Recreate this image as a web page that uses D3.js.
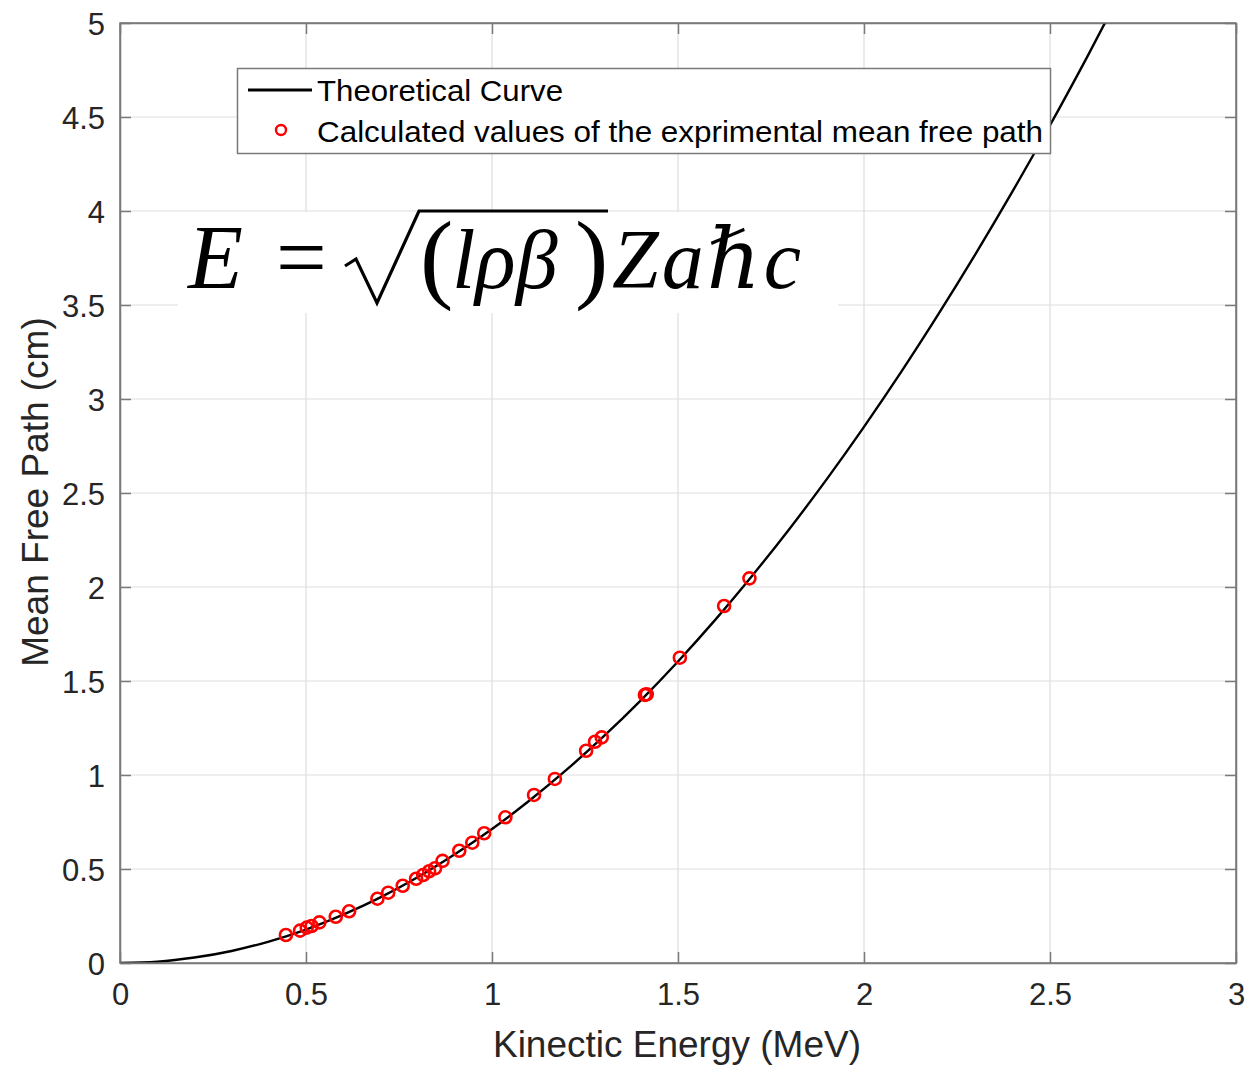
<!DOCTYPE html>
<html><head><meta charset="utf-8">
<script src="https://cdn.jsdelivr.net/npm/d3@7"></script>
<style>body{margin:0;background:#fff}svg{display:block}</style>
</head><body>
<svg id="c" width="1248" height="1065"></svg>
<script>
// Theoretical curve samples
const curveE = [0,0.1,0.2,0.3,0.4,0.5,0.6,0.7,0.8,0.9,1.0,1.1,1.2,1.3,1.4,1.5,1.6,1.7,1.8,1.9,2.0,2.1,2.2,2.3,2.4,2.5,2.6,2.7];
const curveL = [0,0.007,0.029,0.064,0.114,0.178,0.257,0.349,0.456,0.578,0.713,0.863,1.027,1.205,1.397,1.604,1.825,2.061,2.310,2.574,2.852,3.144,3.451,3.772,4.107,4.456,4.820,5.198];
// Experimental points
const expE = [0.446,0.484,0.502,0.515,0.536,0.580,0.616,0.692,0.721,0.760,0.796,0.815,0.831,0.847,0.867,0.912,0.947,0.979,1.036,1.113,1.169,1.253,1.277,1.295,1.411,1.416,1.505,1.624,1.692];
const expL = [0.149,0.172,0.188,0.197,0.216,0.246,0.275,0.342,0.374,0.411,0.448,0.468,0.488,0.504,0.543,0.597,0.640,0.690,0.775,0.894,0.979,1.129,1.177,1.200,1.426,1.429,1.624,1.899,2.046];
const xTicks = [0,0.5,1,1.5,2,2.5,3];
const yTicks = [0,0.5,1,1.5,2,2.5,3,3.5,4,4.5,5];
const xTickLabels = ["0","0.5","1","1.5","2","2.5","3"];
const yTickLabels = ["0","0.5","1","1.5","2","2.5","3","3.5","4","4.5","5"];

const L=120,R=1236,T=23,B=963;
const svg = d3.select("#c");
const x = d3.scaleLinear().domain([0,3]).range([L,R]);
const y = d3.scaleLinear().domain([0,5]).range([B,T]);
const font = "Arial, 'Liberation Sans', sans-serif";
const axCol = "#262626";

// grid
svg.append("g").selectAll("line").data(xTicks).join("line")
  .attr("x1",d=>x(d)).attr("x2",d=>x(d)).attr("y1",T).attr("y2",B)
  .attr("stroke","#dedede").attr("stroke-width",1.2);
svg.append("g").selectAll("line").data(yTicks).join("line")
  .attr("y1",d=>y(d)).attr("y2",d=>y(d)).attr("x1",L).attr("x2",R)
  .attr("stroke","#dedede").attr("stroke-width",1.2);

// axes with inward ticks
const tl = 11;
const gx = svg.append("g").attr("transform",`translate(0,${B})`)
  .call(d3.axisBottom(x).tickValues(xTicks).tickFormat((d,i)=>xTickLabels[i]).tickSizeInner(-tl).tickSizeOuter(0).tickPadding(tl+9));
const gxt = svg.append("g").attr("transform",`translate(0,${T})`)
  .call(d3.axisTop(x).tickValues(xTicks).tickFormat("").tickSizeInner(-tl).tickSizeOuter(0));
const gy = svg.append("g").attr("transform",`translate(${L},0)`)
  .call(d3.axisLeft(y).tickValues(yTicks).tickFormat((d,i)=>yTickLabels[i]).tickSizeInner(-tl).tickSizeOuter(0).tickPadding(tl+4));
const gyr = svg.append("g").attr("transform",`translate(${R},0)`)
  .call(d3.axisRight(y).tickValues(yTicks).tickFormat("").tickSizeInner(-tl).tickSizeOuter(0));
[gx,gxt,gy,gyr].forEach(g=>{
  g.selectAll("path,line").attr("stroke","#7a7a7a").attr("stroke-width",1.5);
  g.selectAll("text").attr("fill",axCol).style("font-family",font).style("font-size","31px");
});
gy.selectAll("text").attr("dy","0.36em");
gx.selectAll("text").attr("dy","0.71em");

// equation image background
svg.append("rect").attr("x",178).attr("y",212).attr("width",660).attr("height",101).attr("fill","#fff");

// clip
svg.append("clipPath").attr("id","clip").append("rect").attr("x",L).attr("y",T).attr("width",R-L).attr("height",B-T);

// theoretical curve
svg.append("path").datum(curveE.map((e,i)=>[e,curveL[i]]))
  .attr("clip-path","url(#clip)")
  .attr("d",d3.line().x(d=>x(d[0])).y(d=>y(d[1])).curve(d3.curveMonotoneX))
  .attr("fill","none").attr("stroke","#000").attr("stroke-width",2.4);

// points
svg.append("g").selectAll("circle").data(expE.map((e,i)=>[e,expL[i]])).join("circle")
  .attr("cx",d=>x(d[0])).attr("cy",d=>y(d[1])).attr("r",6)
  .attr("fill","none").attr("stroke","#ff0000").attr("stroke-width",2.6);

// box border on top (redraw frame)
svg.append("rect").attr("x",L).attr("y",T).attr("width",R-L).attr("height",B-T)
  .attr("fill","none").attr("stroke","#7a7a7a").attr("stroke-width",1.5);

// axis labels
svg.append("text").attr("x",677).attr("y",1057).attr("text-anchor","middle")
  .attr("fill",axCol).style("font-family",font).style("font-size","37px").text("Kinectic Energy (MeV)");
svg.append("text").attr("transform",`translate(48,492) rotate(-90)`).attr("text-anchor","middle")
  .attr("fill",axCol).style("font-family",font).style("font-size","37px").text("Mean Free Path (cm)");

// legend
const lg = svg.append("g");
lg.append("rect").attr("x",237.5).attr("y",68.5).attr("width",813).attr("height",85)
  .attr("fill","#fff").attr("stroke","#7a7a7a").attr("stroke-width",1.5);
lg.append("line").attr("x1",248).attr("x2",312).attr("y1",90).attr("y2",90).attr("stroke","#000").attr("stroke-width",3);
lg.append("circle").attr("cx",281).attr("cy",130).attr("r",5).attr("fill","none").attr("stroke","#ff0000").attr("stroke-width",2.4);
lg.append("text").attr("x",317).attr("y",101).attr("fill","#000").style("font-family",font).style("font-size","30px")
  .attr("textLength",246).attr("lengthAdjust","spacingAndGlyphs").text("Theoretical Curve");
lg.append("text").attr("x",317).attr("y",142).attr("fill","#000").style("font-family",font).style("font-size","30px")
  .attr("textLength",726).attr("lengthAdjust","spacingAndGlyphs").text("Calculated values of the exprimental mean free path");

// equation
const eq = svg.append("g").style("font-family","'Liberation Serif', 'DejaVu Serif', serif").style("font-size","84px").attr("fill","#000");
eq.append("path").attr("d","M345,266 L356,259 L377,303 L419,211 L608,211").attr("fill","none").attr("stroke","#000").attr("stroke-width",3.2).attr("stroke-linejoin","miter");
const t = eq.append("text").attr("y",288);
t.append("tspan").attr("x",188).style("font-style","italic").style("font-size","90px").text("E");
t.append("tspan").attr("x",276).style("font-size","90px").text("=");
t.append("tspan").attr("x",420).style("font-size","100px").attr("dy",2).text("(");
t.append("tspan").attr("x",452).style("font-style","italic").attr("dy",-2).text("lρβ");
t.append("tspan").attr("x",575).style("font-size","100px").attr("dy",2).text(")");
t.append("tspan").attr("x",612).style("font-style","italic").attr("dy",-2).style("letter-spacing","3px").text("Zaℏc");
</script>
</body></html>
